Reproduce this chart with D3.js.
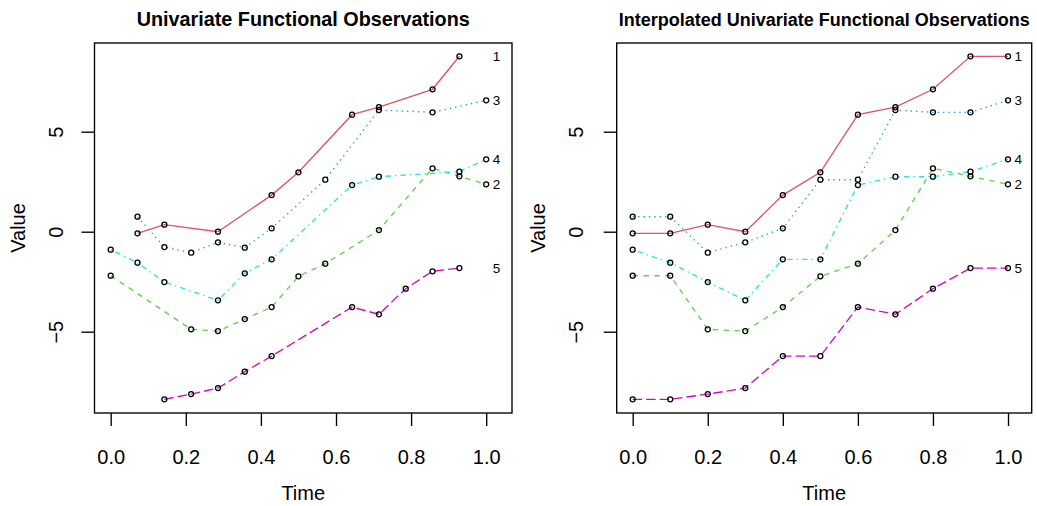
<!DOCTYPE html>
<html>
<head>
<meta charset="utf-8">
<script src="https://cdn.jsdelivr.net/npm/d3@7"></script>
<style>
  html, body { margin: 0; padding: 0; background: #ffffff; }
  svg { display: block; }
  text { font-family: "Liberation Sans", Arial, Helvetica, sans-serif; fill: #000; }
</style>
</head>
<body>
<script>
// ---------------- DATA ----------------
const seriesNames = ["1", "2", "3", "4", "5"];
const seriesColors = ["#DF536B", "#61D04F", "#2297E6", "#28E2E5", "#CD0BBC"];

// Observation grid of the raw functional data (left panel)
const timeRaw = [0, 0.0714, 0.1429, 0.2143, 0.2857, 0.3571, 0.4286, 0.5, 0.5714, 0.6429, 0.7143, 0.7857, 0.8571, 0.9286, 1.0];
const raw1 = [null, -0.08, 0.35, null, 0.0, null, 1.83, 2.97, null, 5.85, 6.23, null, 7.12, 8.77, null];
const raw2 = [-2.2, null, null, -4.88, -4.97, -4.37, -3.77, -2.23, -1.6, null, 0.08, null, 3.17, 2.77, 2.37];
const raw3 = [null, 0.75, -0.77, -1.05, -0.53, -0.8, 0.17, null, 2.6, null, 6.08, null, 5.97, null, 6.57];
const raw4 = [-0.9, -1.55, -2.52, null, -3.43, -2.08, -1.38, null, null, 2.33, 2.75, null, null, 3.0, 3.62];
const raw5 = [null, null, -8.38, -8.12, -7.82, -7.0, -6.22, null, null, -3.77, -4.13, -2.85, -1.98, -1.82, null];

// Interpolated grid (right panel)
const timeInterp = [0, 0.1, 0.2, 0.3, 0.4, 0.5, 0.6, 0.7, 0.8, 0.9, 1.0];
const int1 = [-0.08, -0.08, 0.35, 0.0, 1.83, 2.97, 5.85, 6.23, 7.12, 8.77, 8.77];
const int2 = [-2.2, -2.2, -4.88, -4.97, -3.77, -2.23, -1.6, 0.08, 3.17, 2.77, 2.37];
const int3 = [0.75, 0.75, -1.05, -0.53, 0.17, 2.6, 2.6, 6.08, 5.97, 5.97, 6.57];
const int4 = [-0.9, -1.55, -2.52, -3.43, -1.38, -1.38, 2.33, 2.75, 2.75, 3.0, 3.62];
const int5 = [-8.38, -8.38, -8.12, -7.82, -6.22, -6.22, -3.77, -4.13, -2.85, -1.82, -1.82];

// Last observed value of each curve (where its label sits)
const labelValues = [8.77, 2.37, 6.57, 3.62, -1.82];

const xTicks = [0, 0.2, 0.4, 0.6, 0.8, 1.0];
const yTicks = [-5, 0, 5];
const titles = ["Univariate Functional Observations", "Interpolated Univariate Functional Observations"];
const xLabel = "Time";
const yLabel = "Value";

// ---------------- STYLE / LAYOUT ----------------
const W = 1037, H = 506;
const lw = 1.35;
const dashes = [null, "5.4,5.4", "1.35,4.05", "1.35,4.05,5.4,4.05", "9.45,4.05"];

const panels = [
  { box: [94.5, 512], xr: [110.7, 486.2], times: timeRaw, data: [raw1, raw2, raw3, raw4, raw5],
    title: titles[0], titleSize: 19.8, yTickLabX: 63, yLabX: 25 },
  { box: [616.7, 1031.7], xr: [632.7, 1008], times: timeInterp, data: [int1, int2, int3, int4, int5],
    title: titles[1], titleSize: 18.0, yTickLabX: 583, yLabX: 545 }
];
const boxTop = 43, boxBottom = 413;

const svg = d3.select("body").append("svg").attr("width", W).attr("height", H);
svg.append("rect").attr("width", W).attr("height", H).attr("fill", "#fff");

const y = d3.scaleLinear().domain([-5, 5]).range([331.7, 131.7]);

panels.forEach(p => {
  const x = d3.scaleLinear().domain([0, 1]).range(p.xr);
  const g = svg.append("g");
  const cx = (p.box[0] + p.box[1]) / 2;
  const cy = (boxTop + boxBottom) / 2;

  // title
  g.append("text").attr("x", cx).attr("y", 26).attr("text-anchor", "middle")
    .style("font-weight", "bold").style("font-size", p.titleSize + "px").text(p.title);

  // x axis
  const xAxis = g.append("g").attr("transform", `translate(0,${boxBottom})`)
    .call(d3.axisBottom(x).tickValues(xTicks).tickSize(13).tickSizeOuter(0).tickFormat(d3.format(".1f")));
  xAxis.selectAll(".domain").remove();
  xAxis.selectAll(".tick line").attr("stroke", "#000").attr("stroke-width", lw);
  xAxis.selectAll(".tick text").attr("y", 51).attr("dy", 0)
    .style("font-size", "20px").style("font-family", "'Liberation Sans', Arial, sans-serif").attr("fill", "#000");

  // y axis
  const yAxis = g.append("g").attr("transform", `translate(${p.box[0]},0)`)
    .call(d3.axisLeft(y).tickValues(yTicks).tickSize(13).tickSizeOuter(0).tickFormat(d => d < 0 ? "\u2212" + Math.abs(d) : String(d)));
  yAxis.selectAll(".domain").remove();
  yAxis.selectAll(".tick line").attr("stroke", "#000").attr("stroke-width", lw);
  yAxis.selectAll(".tick text")
    .attr("x", 0).attr("dy", 0).attr("text-anchor", "middle")
    .attr("transform", `translate(${p.yTickLabX - p.box[0]},0) rotate(-90)`)
    .style("font-size", "20px").style("font-family", "'Liberation Sans', Arial, sans-serif").attr("fill", "#000");

  // axis labels
  g.append("text").attr("x", cx).attr("y", 500).attr("text-anchor", "middle")
    .style("font-size", "20px").text(xLabel);
  g.append("text").attr("transform", `translate(${p.yLabX},${cy}) rotate(-90)`).attr("text-anchor", "middle")
    .style("font-size", "20px").text(yLabel);

  // series
  const line = d3.line().defined(d => d.v !== null).x(d => x(d.t)).y(d => y(d.v));
  p.data.forEach((vals, i) => {
    const pts = vals.map((v, j) => ({ t: p.times[j], v: v })).filter(d => d.v !== null);
    g.append("path").datum(pts).attr("d", line).attr("fill", "none")
      .attr("stroke", seriesColors[i]).attr("stroke-width", lw)
      .attr("stroke-dasharray", dashes[i]);
    g.selectAll(null).data(pts).enter().append("circle")
      .attr("cx", d => x(d.t)).attr("cy", d => y(d.v)).attr("r", 2.5)
      .attr("fill", "none").attr("stroke", "#000").attr("stroke-width", 1.3);
  });

  // curve labels
  g.selectAll(null).data(seriesNames).enter().append("text")
    .attr("x", x(1) + 6.5).attr("y", (d, i) => y(labelValues[i])).attr("dy", "0.36em")
    .style("font-size", "13.5px").text(d => d);

  // box
  g.append("rect").attr("x", p.box[0]).attr("y", boxTop)
    .attr("width", p.box[1] - p.box[0]).attr("height", boxBottom - boxTop)
    .attr("fill", "none").attr("stroke", "#000").attr("stroke-width", lw);
});
</script>
</body>
</html>
